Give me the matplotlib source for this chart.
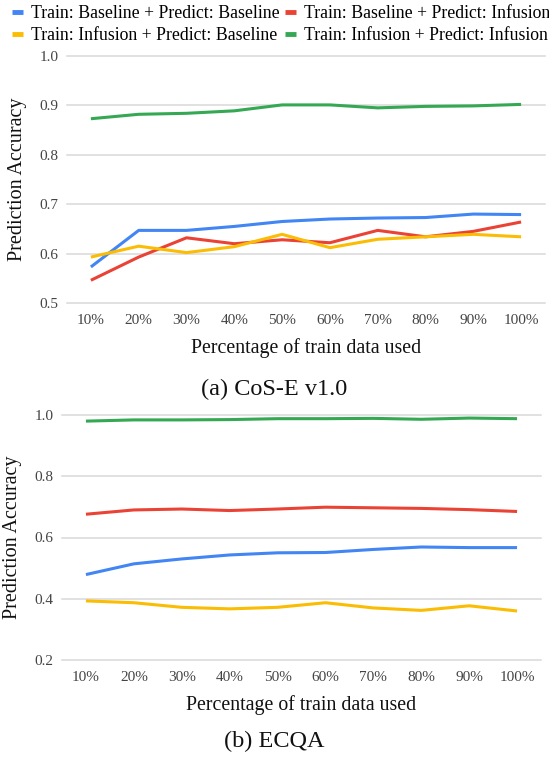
import matplotlib
matplotlib.use("Agg")
import matplotlib.pyplot as plt
from matplotlib.lines import Line2D

plt.rcParams['font.family'] = ['Liberation Serif', 'DejaVu Serif']

categories = ["10%", "20%", "30%", "40%", "50%", "60%", "70%", "80%", "90%", "100%"]
series_names = ["Train: Baseline + Predict: Baseline",
                "Train: Baseline + Predict: Infusion",
                "Train: Infusion + Predict: Baseline",
                "Train: Infusion + Predict: Infusion"]
colors = ["#4285F4", "#EA4335", "#FBBC04", "#34A853"]

# (a) CoS-E v1.0
cose_bb = [0.573, 0.647, 0.647, 0.655, 0.665, 0.670, 0.672, 0.673, 0.680, 0.679]
cose_bi = [0.546, 0.593, 0.632, 0.620, 0.628, 0.622, 0.647, 0.634, 0.645, 0.664]
cose_ib = [0.593, 0.615, 0.602, 0.614, 0.639, 0.612, 0.629, 0.634, 0.639, 0.634]
cose_ii = [0.873, 0.882, 0.884, 0.889, 0.901, 0.901, 0.895, 0.898, 0.899, 0.902]

# (b) ECQA
ecqa_bb = [0.479, 0.514, 0.530, 0.543, 0.550, 0.551, 0.561, 0.569, 0.567, 0.567]
ecqa_bi = [0.676, 0.690, 0.693, 0.688, 0.693, 0.699, 0.697, 0.695, 0.691, 0.685]
ecqa_ib = [0.393, 0.387, 0.372, 0.367, 0.372, 0.387, 0.370, 0.362, 0.377, 0.360]
ecqa_ii = [0.980, 0.984, 0.984, 0.985, 0.988, 0.988, 0.989, 0.986, 0.990, 0.988]

top_yticks = [0.5, 0.6, 0.7, 0.8, 0.9, 1.0]
bot_yticks = [0.2, 0.4, 0.6, 0.8, 1.0]

W, H = 549, 758
fig = plt.figure(figsize=(W / 100, H / 100), dpi=100)

def px_axes(left, top, right, bottom):
    return fig.add_axes([left / W, 1 - bottom / H, (right - left) / W, (bottom - top) / H])

def style(ax, yticks, title, title_y):
    ax.set_xlim(-0.5, len(categories) - 0.5)
    ax.set_ylim(yticks[0], yticks[-1])
    ax.set_yticks(yticks)
    ax.set_yticklabels([f"{t:.1f}" for t in yticks])
    ax.set_xticks(list(range(len(categories))))
    ax.set_xticklabels(categories)
    for s in ax.spines.values():
        s.set_visible(False)
    ax.tick_params(length=0, labelsize=11, colors="#444444", pad=6)
    ax.tick_params(axis="x", pad=8)
    ax.grid(axis="y", color="#d9d9d9", linewidth=1.1, clip_on=False)
    ax.set_axisbelow(True)
    ax.set_ylabel("Prediction Accuracy", fontsize=14.5, labelpad=9, color="#111111")
    ax.set_xlabel("Percentage of train data used", fontsize=14.3, labelpad=8, color="#111111")
    fig.text(0.5, 1 - title_y / H, title, ha="center", va="center", fontsize=17.5, color="#111111")

x = list(range(len(categories)))

ax1 = px_axes(67, 56, 545, 303)
for vals, c in zip([cose_bb, cose_bi, cose_ib, cose_ii], colors):
    ax1.plot(x, vals, color=c, linewidth=2.2, solid_capstyle="butt")
style(ax1, top_yticks, "(a) CoS-E v1.0", 389)

ax2 = px_axes(62, 415, 541, 660)
for vals, c in zip([ecqa_bb, ecqa_bi, ecqa_ib, ecqa_ii], colors):
    ax2.plot(x, vals, color=c, linewidth=2.2, solid_capstyle="butt")
style(ax2, bot_yticks, "(b) ECQA", 741)

order = [0, 2, 1, 3]
handles = [Line2D([], [], color=colors[i], linewidth=3.5, solid_capstyle="butt") for i in order]
labels = [series_names[i] for i in order]
fig.legend(handles, labels, ncol=2, loc="upper left", bbox_to_anchor=(0.0, 1.010),
           frameon=False, fontsize=12.8, handlelength=0.6, handletextpad=0.45,
           columnspacing=0.3, labelspacing=0.3, borderaxespad=0.3)

fig.savefig("out.png", dpi=100)
